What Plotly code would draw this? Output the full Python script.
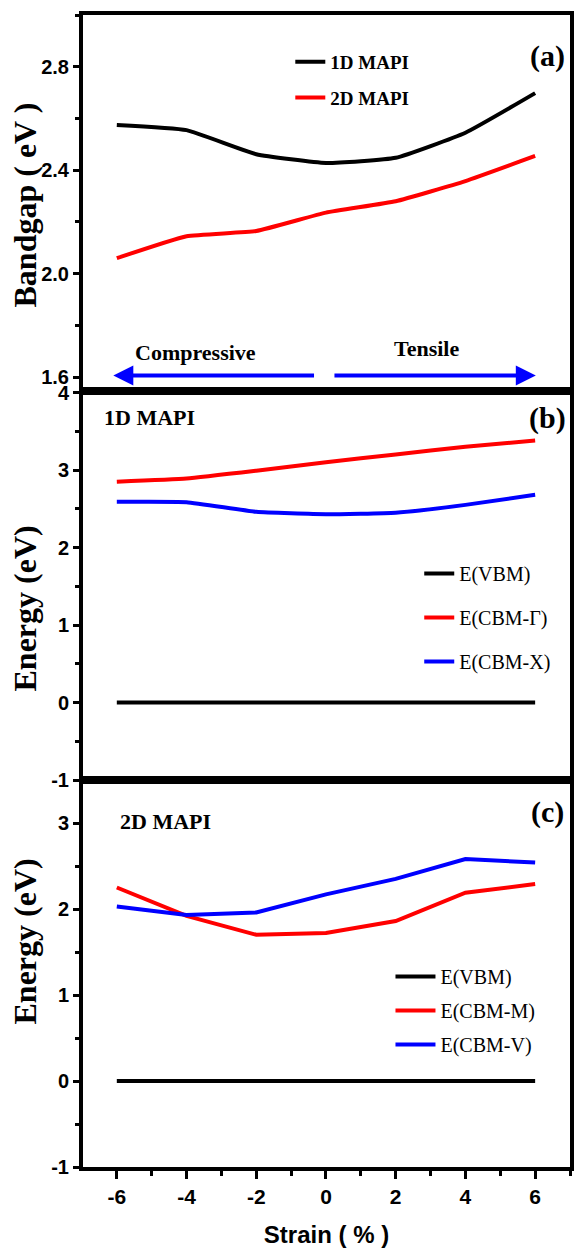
import plotly.graph_objects as go

strain = [-6, -4, -2, 0, 2, 4, 6]

# Panel (a) bandgap
bg_1d = [2.575, 2.555, 2.462, 2.428, 2.448, 2.545, 2.698]
bg_2d = [2.060, 2.145, 2.165, 2.236, 2.280, 2.358, 2.455]

# Panel (b) 1D MAPI
b_vbm = [0, 0, 0, 0, 0, 0, 0]
b_cbm_g = [2.85, 2.89, 2.99, 3.10, 3.20, 3.30, 3.38]
b_cbm_x = [2.59, 2.585, 2.46, 2.43, 2.45, 2.55, 2.68]

# Panel (c) 2D MAPI
c_vbm = [0, 0, 0, 0, 0, 0, 0]
c_cbm_m = [2.25, 1.92, 1.70, 1.72, 1.86, 2.19, 2.29]
c_cbm_v = [2.03, 1.93, 1.96, 2.17, 2.35, 2.58, 2.54]

xticks = [-6, -4, -2, 0, 2, 4, 6]
xticklabels = ["-6", "-4", "-2", "0", "2", "4", "6"]
a_ticks = [1.6, 2.0, 2.4, 2.8]
a_ticklabels = ["1.6", "2.0", "2.4", "2.8"]
b_ticks = [-1, 0, 1, 2, 3, 4]
b_ticklabels = ["-1", "0", "1", "2", "3", "4"]
c_ticks = [-1, 0, 1, 2, 3]
c_ticklabels = ["-1", "0", "1", "2", "3"]

W, H = 574, 1252
ML, MR, MT, MB = 83, 0, 15, 85
PW = W - ML - MR
PH = H - MT - MB


def PX(px):
    return (px - ML) / PW


def PY(py):
    return (H - MB - py) / PH


BLACK, RED, BLUE = "#000000", "#ff0000", "#0000ff"
SERIF = "Liberation Serif, Times New Roman, serif"
SANS = "Liberation Sans Narrow, Arial Narrow, Liberation Sans, Arial, sans-serif"
LW = 4

fig = go.Figure()

# (a)
fig.add_trace(go.Scatter(x=strain, y=bg_1d, mode="lines", name="1D MAPI",
                         line=dict(color=BLACK, width=LW, shape="spline", smoothing=0.4),
                         xaxis="x", yaxis="y", legend="legend", legendgroup="a1"))
fig.add_trace(go.Scatter(x=strain, y=bg_2d, mode="lines", name="2D MAPI",
                         line=dict(color=RED, width=LW, shape="spline", smoothing=0.4),
                         xaxis="x", yaxis="y", legend="legend", legendgroup="a2"))
# (b)
fig.add_trace(go.Scatter(x=strain, y=b_vbm, mode="lines", name="E(VBM)",
                         line=dict(color=BLACK, width=LW),
                         xaxis="x2", yaxis="y2", legend="legend2", legendgroup="b1"))
fig.add_trace(go.Scatter(x=strain, y=b_cbm_g, mode="lines", name="E(CBM-Γ)",
                         line=dict(color=RED, width=LW, shape="spline", smoothing=0.4),
                         xaxis="x2", yaxis="y2", legend="legend2", legendgroup="b2"))
fig.add_trace(go.Scatter(x=strain, y=b_cbm_x, mode="lines", name="E(CBM-X)",
                         line=dict(color=BLUE, width=LW, shape="spline", smoothing=0.4),
                         xaxis="x2", yaxis="y2", legend="legend2", legendgroup="b3"))
# (c)
fig.add_trace(go.Scatter(x=strain, y=c_vbm, mode="lines", name="E(VBM)",
                         line=dict(color=BLACK, width=LW),
                         xaxis="x3", yaxis="y3", legend="legend3", legendgroup="c1"))
fig.add_trace(go.Scatter(x=strain, y=c_cbm_m, mode="lines", name="E(CBM-M)",
                         line=dict(color=RED, width=LW),
                         xaxis="x3", yaxis="y3", legend="legend3", legendgroup="c2"))
fig.add_trace(go.Scatter(x=strain, y=c_cbm_v, mode="lines", name="E(CBM-V)",
                         line=dict(color=BLUE, width=LW),
                         xaxis="x3", yaxis="y3", legend="legend3", legendgroup="c3"))

xr = [-6.97, 7.0]
ya_dom = [PY(391), 1.0]
yb_dom = [PY(780), PY(391)]
yc_dom = [0.0, PY(780)]

common_x = dict(range=xr, showline=True, linewidth=4, linecolor=BLACK, mirror=True,
                showgrid=False, zeroline=False)
common_y = dict(showline=True, linewidth=4, linecolor=BLACK, mirror=True,
                showgrid=False, zeroline=False, ticks="outside", ticklen=6,
                tickwidth=3, tickcolor=BLACK,
                tickfont=dict(family=SANS, size=20, color=BLACK, weight="bold"))

fig.update_layout(
    width=W, height=H, margin=dict(l=ML, r=MR, t=MT, b=MB),
    paper_bgcolor="white", plot_bgcolor="white",
    xaxis=dict(**common_x, anchor="y", showticklabels=False, ticks=""),
    xaxis2=dict(**common_x, anchor="y2", matches="x", showticklabels=False, ticks=""),
    xaxis3=dict(**common_x, anchor="y3", matches="x", ticks="outside", ticklen=8,
                tickwidth=3, tickcolor=BLACK, tickvals=xticks, ticktext=xticklabels,
                minor=dict(dtick=1, tick0=-7, ticks="outside", ticklen=5, tickwidth=3, tickcolor=BLACK),
                tickfont=dict(family=SANS, size=21, color=BLACK, weight="bold"),
                title=dict(text="Strain ( % )", standoff=20,
                           font=dict(family=SANS, size=24, color=BLACK, weight="bold"))),
    yaxis=dict(**common_y, domain=ya_dom, range=[2.8 - (391 - 67) / 258.5, 3.0],
               tickvals=a_ticks, ticktext=a_ticklabels,
               minor=dict(dtick=0.2, tick0=1.6, ticks="outside", ticklen=4, tickwidth=3, tickcolor=BLACK)),
    yaxis2=dict(**common_y, domain=yb_dom, range=[-1, 3 + (470 - 391) / 77.5],
                tickvals=b_ticks, ticktext=b_ticklabels,
                minor=dict(dtick=0.5, tick0=-1, ticks="outside", ticklen=4, tickwidth=3, tickcolor=BLACK)),
    yaxis3=dict(**common_y, domain=yc_dom, range=[-1, 3.5],
                tickvals=c_ticks, ticktext=c_ticklabels,
                minor=dict(dtick=0.5, tick0=-1, ticks="outside", ticklen=4, tickwidth=3, tickcolor=BLACK)),
    legend=dict(x=PX(292), y=PY(43), xanchor="left", yanchor="top", bgcolor="rgba(0,0,0,0)",
                tracegroupgap=8, itemwidth=30,
                font=dict(family=SERIF, size=19, color=BLACK, weight="bold")),
    legend2=dict(x=PX(422), y=PY(554), xanchor="left", yanchor="top", bgcolor="rgba(0,0,0,0)",
                 tracegroupgap=15, itemwidth=30,
                 font=dict(family=SERIF, size=20, color=BLACK)),
    legend3=dict(x=PX(393), y=PY(957), xanchor="left", yanchor="top", bgcolor="rgba(0,0,0,0)",
                 tracegroupgap=5, itemwidth=40,
                 font=dict(family=SERIF, size=20, color=BLACK)),
    showlegend=True,
)

ann = []
# y-axis titles
for txt, py in [("Bandgap ( eV )", 205), ("Energy (eV)", 608), ("Energy (eV)", 941)]:
    ann.append(dict(text=txt, xref="paper", yref="paper", x=PX(25), y=PY(py),
                    showarrow=False, textangle=-90, xanchor="center", yanchor="middle",
                    font=dict(family=SERIF, size=32, color=BLACK, weight="bold")))
# panel labels
for txt, py in [("(a)", 56), ("(b)", 418), ("(c)", 812)]:
    ann.append(dict(text=txt, xref="paper", yref="paper", x=PX(551), y=PY(py),
                    showarrow=False, xanchor="center", yanchor="middle",
                    font=dict(family=SERIF, size=30, color=BLACK, weight="bold")))
# panel titles
ann.append(dict(text="1D MAPI", xref="paper", yref="paper", x=PX(102), y=PY(418),
                showarrow=False, xanchor="left", yanchor="middle",
                font=dict(family=SERIF, size=22, color=BLACK, weight="bold")))
ann.append(dict(text="2D MAPI", xref="paper", yref="paper", x=PX(118), y=PY(822),
                showarrow=False, xanchor="left", yanchor="middle",
                font=dict(family=SERIF, size=22, color=BLACK, weight="bold")))
ann.append(dict(text="Compressive", xref="paper", yref="paper", x=PX(196), y=PY(352),
                showarrow=False, xanchor="center", yanchor="middle",
                font=dict(family=SERIF, size=22, color=BLACK, weight="bold")))
ann.append(dict(text="Tensile", xref="paper", yref="paper", x=PX(429), y=PY(348),
                showarrow=False, xanchor="center", yanchor="middle",
                font=dict(family=SERIF, size=22, color=BLACK, weight="bold")))
# strain direction arrows
arrow_y = 1.607
ann.append(dict(x=-6.1, y=arrow_y, ax=-0.3, ay=arrow_y, xref="x", yref="y", axref="x", ayref="y",
                text="", showarrow=True, arrowhead=2, arrowsize=1, arrowwidth=4, arrowcolor=BLUE))
ann.append(dict(x=6.02, y=arrow_y, ax=0.2, ay=arrow_y, xref="x", yref="y", axref="x", ayref="y",
                text="", showarrow=True, arrowhead=2, arrowsize=1, arrowwidth=4, arrowcolor=BLUE))
fig.update_layout(annotations=ann)

fig.write_html("out.html")
